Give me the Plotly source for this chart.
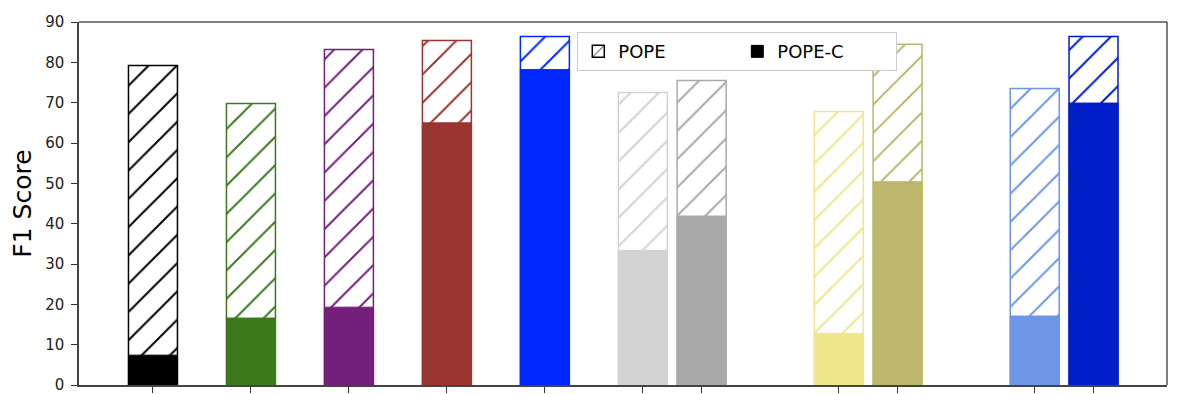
import plotly.graph_objects as go

# bar positions (two bars share a group in the last three groups)
positions = [0, 1, 2, 3, 4, 5, 5.6, 7, 7.6, 9, 9.6]
pope = [79.2, 69.8, 83.2, 85.4, 86.4, 72.5, 75.5, 67.8, 84.5, 73.5, 86.4]
pope_c = [7.4, 16.6, 19.3, 65.0, 78.2, 33.4, 41.9, 12.8, 50.4, 17.1, 69.9]
colors = [
  "#000000", "#3a7a1c", "#741f7c", "#983530", "#0028ff",
  "#d3d3d3", "#a9a9a9", "#f0e68c", "#bdb76b", "#6d96e8", "#001ec8",
]

fig = go.Figure()
fig.add_trace(
  go.Bar(
    x=positions,
    y=pope,
    width=0.5,
    name="POPE",
    marker={
      "color": "white",
      "line": {"color": colors, "width": 1.5},
      "pattern": {
        "shape": "/",
        "size": 20,
        "solidity": 0.1,
        "fgcolor": colors,
        "bgcolor": "white",
        "fillmode": "replace",
      },
    },
  )
)
fig.add_trace(
  go.Bar(
    x=positions,
    y=pope_c,
    width=0.5,
    name="POPE-C",
    marker={"color": colors, "line": {"color": colors, "width": 1}},
  )
)

# the page body adds an 8px offset, so the figure is a bit smaller than the window
fig.update_layout(
  width=1188,
  height=386,
  barmode="overlay",
  template="none",
  plot_bgcolor="white",
  paper_bgcolor="white",
  margin={"l": 71, "r": 29, "t": 14, "b": 9},
  font={"family": "DejaVu Sans", "color": "black"},
  legend={
    "orientation": "h",
    "x": 0.458,
    "y": 0.972,
    "xanchor": "left",
    "yanchor": "top",
    "bgcolor": "white",
    "bordercolor": "#cccccc",
    "borderwidth": 1,
    "font": {"family": "DejaVu Sans", "size": 18},
    "entrywidth": 114,
  },
  xaxis={
    "range": [-0.755, 10.35],
    "tickvals": positions,
    "ticktext": [""] * len(positions),
    "ticks": "outside",
    "ticklen": 6,
    "tickcolor": "#333",
    "showgrid": False,
    "zeroline": False,
    "showline": True,
    "linecolor": "#444",
    "linewidth": 1.5,
  },
  yaxis={
    "range": [0, 90],
    "dtick": 10,
    "ticks": "outside",
    "ticklen": 6,
    "tickcolor": "#333",
    "ticklabelstandoff": 4,
    "ticklabeloverflow": "allow",
    "tickfont": {"family": "DejaVu Sans", "size": 15, "color": "#222"},
    "showgrid": False,
    "zeroline": False,
    "showline": True,
    "linecolor": "#444",
    "linewidth": 1.5,
    "title": {"text": "F1 Score", "font": {"family": "DejaVu Sans", "size": 25}, "standoff": 8},
  },
  shapes=[
    {"type": "line", "xref": "paper", "yref": "paper", "x0": 0, "x1": 1, "y0": 1, "y1": 1,
     "line": {"color": "black", "width": 1}},
    {"type": "line", "xref": "paper", "yref": "paper", "x0": 1, "x1": 1, "y0": 0, "y1": 1,
     "line": {"color": "black", "width": 1}},
  ],
)

fig.write_html("out.html")
